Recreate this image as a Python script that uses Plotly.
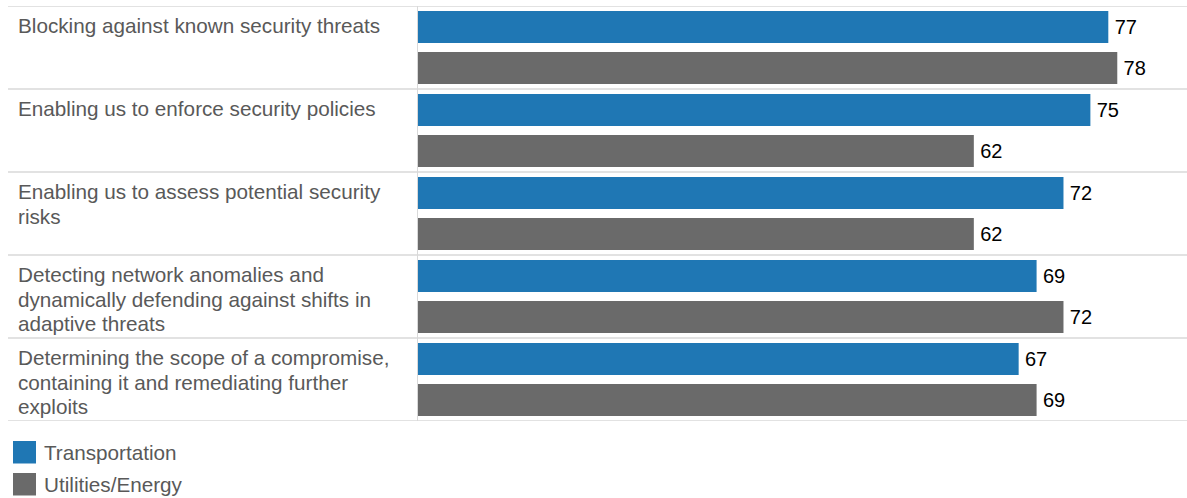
import plotly.graph_objects as go

# --- data ---
categories = [
    "Blocking against known security threats",
    "Enabling us to enforce security policies",
    "Enabling us to assess potential security<br>risks",
    "Detecting network anomalies and<br>dynamically defending against shifts in<br>adaptive threats",
    "Determining the scope of a compromise,<br>containing it and remediating further<br>exploits",
]
series_names = ["Transportation", "Utilities/Energy"]
transportation = [77, 75, 72, 69, 67]
utilities_energy = [78, 62, 62, 72, 69]
series_values = [transportation, utilities_energy]
series_colors = ["#1F77B4", "#6A6A6A"]

# --- layout geometry (pixels) ---
W, H = 1187, 498
M_L, M_R, M_T, M_B = 418, 0, 6, 77
PLOT_W = W - M_L - M_R
PLOT_H = H - M_T - M_B
FONT = "Liberation Sans, Arial, sans-serif"
LABEL_SIZE = 20.7
LABEL_COLOR = "#595959"
RULE_COLOR = "#D9D9D9"
LINE_STEP = 24.5


def px_x(p):
    return (p - M_L) / PLOT_W


def px_y(p):
    return (H - M_B - p) / PLOT_H


fig = go.Figure()
for name, vals, col in zip(series_names, series_values, series_colors):
    fig.add_trace(go.Bar(
        y=categories, x=vals, name=name, orientation="h",
        marker=dict(color=col, line=dict(width=0)),
        text=vals, texttemplate="\u2006%{x}", textposition="outside",
        constraintext="none",
        textfont=dict(family=FONT, size=20, color="#000000"),
        cliponaxis=False, showlegend=False,
    ))

shapes = []
annotations = []
n = len(categories)
group_h = PLOT_H / n
# horizontal rules between category groups
for i in range(n + 1):
    shapes.append(dict(type="line", xref="paper", yref="y",
                       x0=px_x(8), x1=1, y0=i - 0.5, y1=i - 0.5,
                       line=dict(color=RULE_COLOR, width=1.5)))
# category labels, left aligned at the top of each group, one line at a time
for i, cat in enumerate(categories):
    top = M_T + i * group_h
    for k, line in enumerate(cat.split("<br>")):
        annotations.append(dict(xref="paper", yref="paper", x=px_x(16),
                                y=px_y(top + 19.5 + k * LINE_STEP),
                                xanchor="left", yanchor="middle", align="left",
                                text=line, showarrow=False,
                                font=dict(family=FONT, size=LABEL_SIZE,
                                          color=LABEL_COLOR)))
# legend drawn as swatches + text
for j, (name, col) in enumerate(zip(series_names, series_colors)):
    top = 441 + j * 32
    shapes.append(dict(type="rect", xref="paper", yref="paper",
                       x0=px_x(13), x1=px_x(36), y0=px_y(top), y1=px_y(top + 22.5),
                       fillcolor=col, line=dict(width=0)))
    annotations.append(dict(xref="paper", yref="paper", x=px_x(42),
                            y=px_y(top + 11), xanchor="left", yanchor="middle",
                            text=name, showarrow=False,
                            font=dict(family=FONT, size=LABEL_SIZE,
                                      color=LABEL_COLOR)))

fig.update_layout(
    width=W, height=H,
    margin=dict(l=M_L, r=M_R, t=M_T, b=M_B, pad=0),
    paper_bgcolor="white", plot_bgcolor="white",
    barmode="group", bargap=0.012, bargroupgap=0.2195,
    xaxis=dict(range=[0, PLOT_W / 8.965], visible=False, fixedrange=True),
    yaxis=dict(range=[n - 0.5, -0.5], showticklabels=False, showgrid=False,
               zeroline=False, showline=True, linecolor=RULE_COLOR, linewidth=1,
               ticks=""),
    shapes=shapes, annotations=annotations,
    font=dict(family=FONT),
)

fig.write_html("out.html")
